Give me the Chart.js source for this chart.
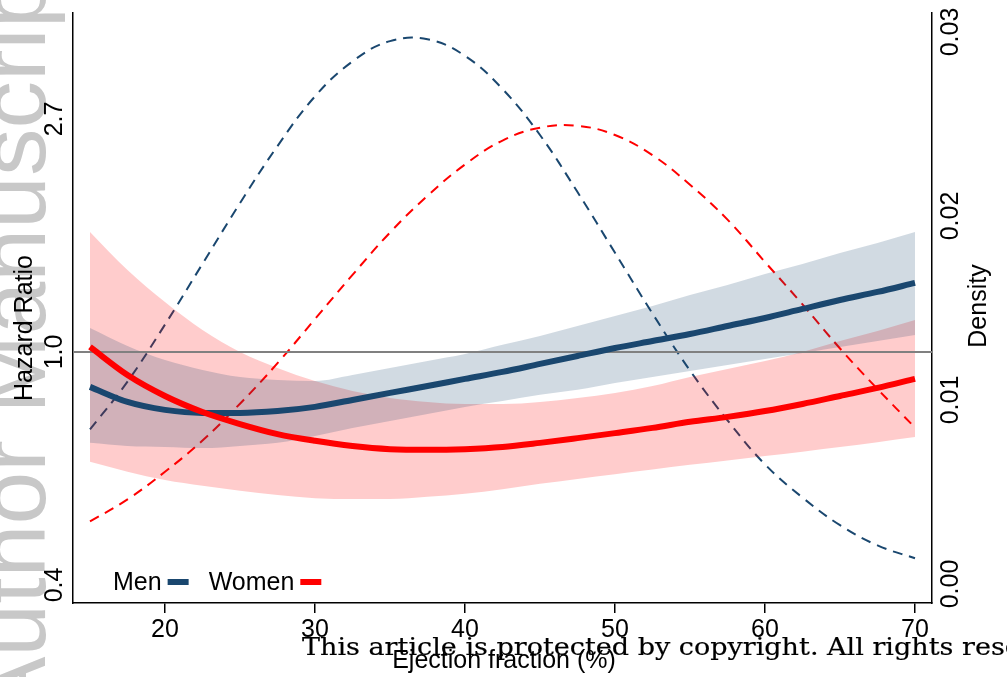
<!DOCTYPE html>
<html>
<head>
<meta charset="utf-8">
<script src="https://cdn.jsdelivr.net/npm/chart.js@4.4.0/dist/chart.umd.min.js"></script>
<style>
  body { margin: 0; background: #fff; }
  #wrap { width: 1007px; height: 677px; }
</style>
</head>
<body>
<div id="wrap"><canvas id="myChart" width="1007" height="677"></canvas></div>
<script>
//Datos

const ejectionFraction = [15, 17.5, 20, 22.5, 25, 27.5, 30, 32.5, 35, 37.5, 40, 42.5, 45, 47.5, 50, 52.5, 55, 57.5, 60, 62.5, 65, 67.5, 70];

const hrMen      = [0.861, 0.807, 0.780, 0.770, 0.770, 0.776, 0.790, 0.814, 0.839, 0.864, 0.891, 0.918, 0.950, 0.983, 1.017, 1.048, 1.080, 1.118, 1.157, 1.203, 1.250, 1.294, 1.345];
const hrMenHigh  = [1.108, 1.026, 0.966, 0.926, 0.898, 0.887, 0.883, 0.906, 0.934, 0.962, 0.991, 1.031, 1.071, 1.118, 1.167, 1.218, 1.277, 1.333, 1.398, 1.459, 1.529, 1.597, 1.674];
const hrMenLow   = [0.677, 0.668, 0.665, 0.662, 0.668, 0.677, 0.697, 0.722, 0.744, 0.766, 0.790, 0.810, 0.832, 0.850, 0.875, 0.898, 0.922, 0.946, 0.970, 0.996, 1.022, 1.048, 1.076];

const hrWomen     = [1.022, 0.906, 0.828, 0.773, 0.734, 0.703, 0.683, 0.668, 0.659, 0.657, 0.659, 0.665, 0.677, 0.691, 0.706, 0.722, 0.741, 0.757, 0.776, 0.800, 0.828, 0.857, 0.891];
const hrWomenHigh = [1.674, 1.422, 1.239, 1.099, 1.000, 0.934, 0.883, 0.846, 0.821, 0.807, 0.800, 0.800, 0.807, 0.821, 0.839, 0.864, 0.898, 0.930, 0.962, 1.000, 1.048, 1.094, 1.147];
const hrWomenLow  = [0.624, 0.598, 0.577, 0.563, 0.551, 0.541, 0.534, 0.532, 0.532, 0.537, 0.544, 0.555, 0.568, 0.580, 0.592, 0.604, 0.616, 0.628, 0.640, 0.652, 0.665, 0.679, 0.694];

const densityMen   = [0.0084, 0.0110, 0.0141, 0.0174, 0.0207, 0.0238, 0.0265, 0.0284, 0.0295, 0.0296, 0.0287, 0.0269, 0.0244, 0.0213, 0.0180, 0.0147, 0.0116, 0.0089, 0.0065, 0.0047, 0.0032, 0.0021, 0.0014];
const densityWomen = [0.0034, 0.0046, 0.0061, 0.0078, 0.0098, 0.0120, 0.0144, 0.0168, 0.0191, 0.0211, 0.0228, 0.0241, 0.0248, 0.0249, 0.0244, 0.0233, 0.0217, 0.0198, 0.0175, 0.0152, 0.0128, 0.0106, 0.0085];

const xTicks = [20, 30, 40, 50, 60, 70];
const hrTicks = [0.3679, 1, 2.7183];
const hrTickLabels = ['0.4', '1.0', '2.7'];
const densityTicks = [0, 0.01, 0.02, 0.03];
const densityTickLabels = ['0.00', '0.01', '0.02', '0.03'];
const hrReference = 1;

const NAVY = 'rgb(26,71,111)';
const RED = 'rgb(255,0,0)';
const FONT = '"Liberation Sans", Arial, sans-serif';

//Funciones

function puntos(valores) {
    return ejectionFraction.map((x, i) => ({ x: x, y: valores[i] }));
}

function textoVertical(ctx, texto, x, y, align) {
    ctx.save();
    ctx.translate(x, y);
    ctx.rotate(-Math.PI / 2);
    ctx.textAlign = align || 'center';
    ctx.textBaseline = 'alphabetic';
    ctx.fillText(texto, 0, 0);
    ctx.restore();
}

const decoracion = {
    id: 'decoracion',
    beforeDraw(chart) {
        const ctx = chart.ctx;
        ctx.save();
        ctx.fillStyle = '#fff';
        ctx.fillRect(0, 0, chart.width, chart.height);
        // marca de agua
        ctx.fillStyle = 'rgb(200,200,200)';
        ctx.font = '95px ' + FONT;
        textoVertical(ctx, 'Author Manuscript', 45, 720, 'left');
        ctx.restore();
    },
    beforeDatasetDraw(chart, args) {
        if (args.index !== 1) return;
        const ctx = chart.ctx;
        const area = chart.chartArea;
        const y = chart.scales.y.getPixelForValue(hrReference);
        ctx.save();
        ctx.strokeStyle = 'rgb(128,128,128)';
        ctx.lineWidth = 2;
        ctx.beginPath();
        ctx.moveTo(area.left, y);
        ctx.lineTo(area.right, y);
        ctx.stroke();
        ctx.restore();
    },
    afterDraw(chart) {
        const ctx = chart.ctx;
        const sx = chart.scales.x, sy = chart.scales.y, sd = chart.scales.y2;
        ctx.save();
        ctx.fillStyle = '#000';
        ctx.font = '25px ' + FONT;

        xTicks.forEach(v => {
            ctx.textAlign = 'center';
            ctx.textBaseline = 'alphabetic';
            ctx.fillText(String(v), sx.getPixelForValue(v), 637);
        });
        hrTicks.forEach((v, i) => textoVertical(ctx, hrTickLabels[i], 62, sy.getPixelForValue(v)));
        densityTicks.forEach((v, i) => textoVertical(ctx, densityTickLabels[i], 958, sd.getPixelForValue(v)));

        textoVertical(ctx, 'Hazard Ratio', 32, 328);
        textoVertical(ctx, 'Density', 986, 306);
        ctx.textAlign = 'center';
        ctx.fillText('Ejection fraction (%)', 504, 668);

        // leyenda
        ctx.textAlign = 'left';
        let x = 113;
        [['Men', NAVY], ['Women', RED]].forEach(([nombre, color]) => {
            ctx.fillStyle = '#000';
            ctx.fillText(nombre, x, 590);
            x += ctx.measureText(nombre).width + 6;
            ctx.fillStyle = color;
            ctx.fillRect(x, 579, 21, 6);
            x += 21 + 20;
        });

        // aviso de copyright
        const aviso = 'This article is protected by copyright. All rights reserved.';
        ctx.font = '25px "DejaVu Serif", serif';
        const ancho = ctx.measureText('This article is protected by copyright. All rights ').width;
        ctx.translate(302, 655);
        ctx.scale(660 / ancho, 1);
        ctx.fillStyle = '#000';
        ctx.strokeStyle = '#000';
        ctx.lineWidth = 0.2;
        ctx.fillText(aviso, 0, 0);
        ctx.strokeText(aviso, 0, 0);
        ctx.restore();
    }
};

const lineaHR = (label, data, color) => ({
    label, data: puntos(data), borderColor: color, borderWidth: 6,
    pointRadius: 0, cubicInterpolationMode: 'monotone', fill: false, yAxisID: 'y'
});
const banda = (data, color, fill) => ({
    data: puntos(data), borderWidth: 0, borderColor: 'transparent', backgroundColor: color,
    pointRadius: 0, cubicInterpolationMode: 'monotone', fill: fill, yAxisID: 'y'
});
const densidad = (label, data, color) => ({
    label, data: puntos(data), borderColor: color, borderWidth: 2, borderDash: [10, 7],
    pointRadius: 0, tension: 0.4, fill: false, yAxisID: 'y2'
});

const config = {
    type: 'line',
    data: {
        datasets: [
            lineaHR('Women', hrWomen, RED),
            lineaHR('Men', hrMen, NAVY),
            banda(hrMenHigh, 'rgba(26,71,111,0.2)', '+1'),
            banda(hrMenLow, 'transparent', false),
            banda(hrWomenHigh, 'rgba(255,0,0,0.2)', '+1'),
            banda(hrWomenLow, 'transparent', false),
            densidad('Women density', densityWomen, RED),
            densidad('Men density', densityMen, NAVY)
        ]
    },
    options: {
        responsive: false,
        animation: false,
        layout: { padding: { left: 73, right: 75, top: 13, bottom: 64 } },
        plugins: { legend: { display: false }, tooltip: { enabled: false } },
        scales: {
            x: {
                type: 'linear', min: 13.867, max: 71.133, bounds: 'data',
                afterBuildTicks: s => { s.ticks = xTicks.map(v => ({ value: v })); },
                ticks: { display: false },
                grid: { display: true, drawOnChartArea: false, drawTicks: true, tickLength: 10, color: '#000', lineWidth: 1.5 },
                border: { display: true, color: '#000', width: 1.5 }
            },
            y: {
                type: 'logarithmic', position: 'left', min: 0.3405, max: 4.284, bounds: 'data',
                afterBuildTicks: s => { s.ticks = hrTicks.map(v => ({ value: v })); },
                ticks: { display: false },
                grid: { display: false, drawTicks: false },
                border: { display: true, color: '#000', width: 1.5 }
            },
            y2: {
                type: 'linear', position: 'right', min: -0.00103, max: 0.03103, bounds: 'data',
                afterBuildTicks: s => { s.ticks = densityTicks.map(v => ({ value: v })); },
                ticks: { display: false },
                grid: { display: false, drawTicks: false },
                border: { display: true, color: '#000', width: 1.5 }
            }
        }
    },
    plugins: [decoracion]
};

window.myChart = new Chart(document.getElementById('myChart'), config);
</script>
</body>
</html>
